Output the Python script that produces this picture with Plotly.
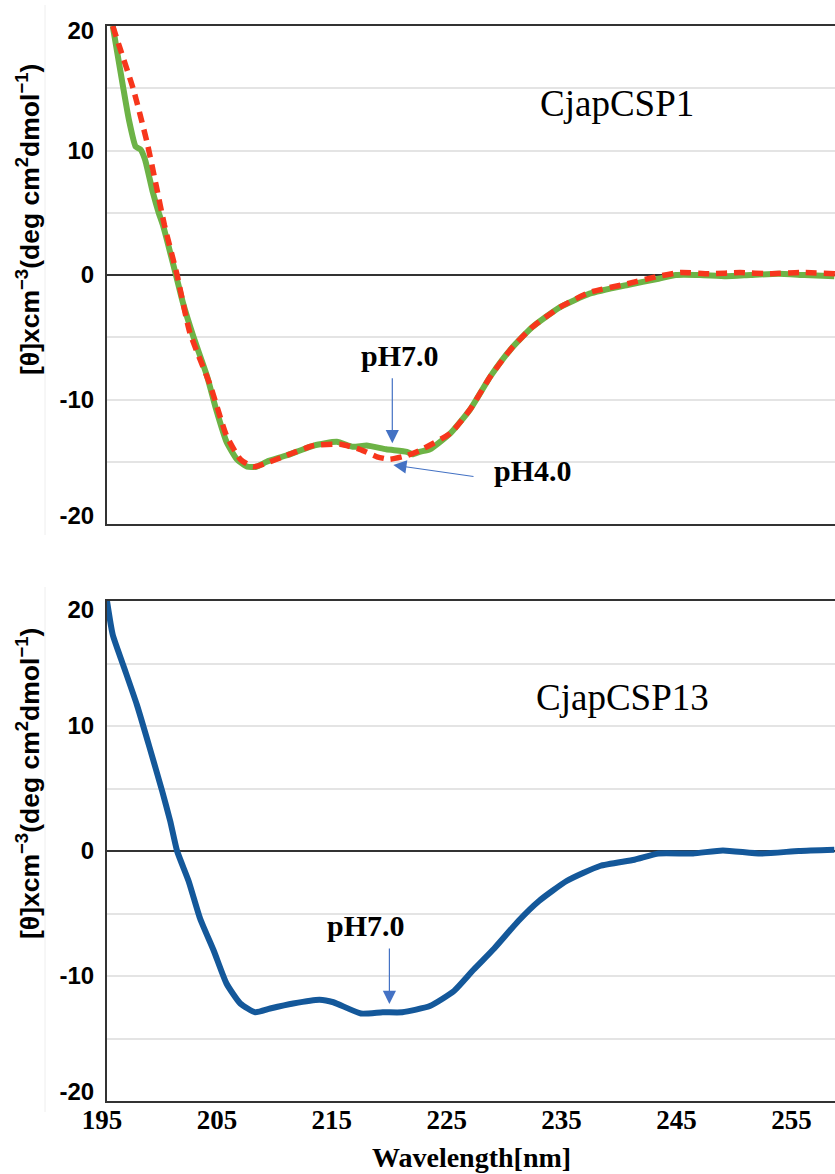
import plotly.graph_objects as go

# ---- data ----
wl_ph7_top = [195.5, 196.4, 196.9, 197.5, 197.9, 198.3, 199.0, 199.5, 199.9, 201.0, 201.6, 202.5,
              203.7, 204.5, 205.4, 206.3, 207.2, 208.0, 208.9, 210.6, 213.0, 215.0, 216.4, 217.6,
              219.3, 221.1, 221.6, 222.2, 223.1, 224.9, 226.6, 228.4, 230.2, 232.0, 234.4, 237.0,
              240.3, 243.0, 244.5, 246.6, 248.9, 251.0, 253.4, 255.7, 258.3]
cd_ph7_top = [20.0, 15.1, 12.5, 10.3, 10.1, 9.3, 6.6, 5.0, 3.9, 0.0, -2.2, -4.9,
              -8.1, -10.8, -13.4, -14.8, -15.4, -15.4, -15.0, -14.5, -13.7, -13.4, -13.8, -13.7,
              -14.0, -14.2, -14.4, -14.2, -14.0, -12.7, -10.8, -8.1, -5.9, -4.2, -2.6, -1.5,
              -0.8, -0.3, 0.0, 0.0, -0.1, 0.0, 0.1, 0.0, -0.1]

wl_ph4_top = [195.5, 196.1, 197.3, 198.5, 199.3, 200.0, 201.1, 202.2, 204.0, 205.4, 206.6, 207.7,
              208.9, 210.6, 213.0, 215.3, 217.0, 218.5, 219.6, 221.1, 222.2, 224.9, 226.6, 228.4,
              230.2, 232.0, 234.4, 237.0, 240.3, 243.0, 244.9, 247.5, 250.1, 252.7, 255.3, 258.4]
cd_ph4_top = [20.0, 18.3, 14.9, 10.6, 7.1, 4.0, 0.0, -4.6, -8.9, -12.9, -14.8, -15.4,
              -15.1, -14.5, -13.7, -13.6, -14.0, -14.6, -14.8, -14.5, -14.1, -12.7, -10.8, -8.1,
              -5.9, -4.2, -2.6, -1.4, -0.7, -0.1, 0.2, 0.1, 0.2, 0.1, 0.2, 0.1]

wl_ph7_bottom = [195.0, 195.5, 196.4, 197.6, 198.7, 199.8, 200.5, 201.1, 202.1, 203.1, 204.3, 205.4,
                 206.6, 207.9, 209.2, 211.2, 213.5, 214.7, 217.1, 219.0, 220.7, 223.1, 225.2, 226.9,
                 228.7, 230.8, 232.6, 235.0, 237.9, 240.9, 243.0, 246.0, 248.6, 251.9, 255.2, 258.3]
cd_ph7_bottom = [20.0, 17.3, 14.9, 11.7, 8.3, 4.8, 2.4, 0.0, -2.4, -5.4, -8.0, -10.6,
                 -12.2, -12.9, -12.6, -12.2, -11.9, -12.1, -13.0, -12.9, -12.9, -12.4, -11.2, -9.5,
                 -7.8, -5.6, -4.0, -2.4, -1.2, -0.7, -0.2, -0.2, 0.05, -0.2, 0.0, 0.1]

x_ticks = [195, 205, 215, 225, 235, 245, 255]
y_tick_text = ["-20", "-10", "0", "10", "20"]
# label positions as printed in the reference (outer labels sit slightly inside the frame)
y_tick_pos_top = [-19.3, -10, 0, 10, 19.65]
y_tick_pos_bottom = [-19.25, -10, 0, 10, 19.3]
y_title = "[θ]xcm<sup>−3</sup>(deg cm<sup>2</sup>dmol<sup>−1</sup>)"

W, H = 835, 1174
GREEN, RED, BLUE, ARROW = "#6db346", "#f7361c", "#14589a", "#4472c4"
AXIS = "#333333"
GRID = "#e4e4e4"

fig = go.Figure()
fig.add_trace(go.Scatter(x=wl_ph7_top, y=cd_ph7_top, mode="lines", name="pH7.0",
                         line=dict(color=GREEN, width=6, shape="spline", smoothing=0.5),
                         xaxis="x", yaxis="y"))
fig.add_trace(go.Scatter(x=wl_ph4_top, y=cd_ph4_top, mode="lines", name="pH4.0",
                         line=dict(color=RED, width=5.5, dash="11px,7px", shape="spline", smoothing=0.5),
                         xaxis="x", yaxis="y"))
fig.add_trace(go.Scatter(x=wl_ph7_bottom, y=cd_ph7_bottom, mode="lines", name="pH7.0",
                         line=dict(color=BLUE, width=6, shape="spline", smoothing=0.5),
                         xaxis="x2", yaxis="y2"))

xr = [195, 258.36]
xdom = [107 / W, 1.0]

def px(v):
    return v / W

def py(v):
    return 1 - v / H

xcommon = dict(range=xr, domain=xdom, showgrid=False, zeroline=False, showline=True,
               mirror=True, linecolor=AXIS, linewidth=2, ticks="", automargin=False)
ycommon = dict(range=[-20, 20], ticktext=y_tick_text, showgrid=False,
               minor=dict(dtick=5, tick0=0, showgrid=True, gridcolor=GRID, gridwidth=1.5),
               zeroline=True, zerolinecolor=AXIS, zerolinewidth=2, showline=True,
               linecolor=AXIS, linewidth=2, ticks="", ticklabelstandoff=6, automargin=False,
               tickfont=dict(family="Liberation Sans", size=24, color="black", weight="bold"))

fig.update_layout(
    width=W, height=H, margin=dict(l=0, r=0, t=0, b=0, pad=0), autosize=False,
    paper_bgcolor="white", plot_bgcolor="white", showlegend=False,
    xaxis=dict(xcommon, anchor="y", showticklabels=False),
    yaxis=dict(ycommon, anchor="x", domain=[py(524), py(26)], tickvals=y_tick_pos_top),
    xaxis2=dict(xcommon, anchor="y2", tickvals=x_ticks, showticklabels=True,
                ticklabelstandoff=-6, ticklabelshift=-5,
                tickfont=dict(family="Liberation Serif", size=27, color="black", weight="bold")),
    yaxis2=dict(ycommon, anchor="x2", domain=[py(1101), py(601)], tickvals=y_tick_pos_bottom),
)

ann = []
# y-axis titles
for yc in (220, 784):
    ann.append(dict(text=y_title, xref="paper", yref="paper", x=px(28), y=py(yc),
                    textangle=-90, showarrow=False, xanchor="center", yanchor="middle",
                    font=dict(family="Liberation Sans", size=26.5, color="black", weight="bold")))
# x-axis title
ann.append(dict(text="Wavelength[nm]", xref="paper", yref="paper", x=px(471), y=py(1157),
                showarrow=False, xanchor="center", yanchor="middle",
                font=dict(family="Liberation Serif", size=28, color="black", weight="bold")))
# panel labels
ann.append(dict(text="CjapCSP1", xref="paper", yref="paper", x=px(617), y=py(104),
                showarrow=False, xanchor="center", yanchor="middle",
                font=dict(family="Liberation Serif", size=37, color="black")))
ann.append(dict(text="CjapCSP13", xref="paper", yref="paper", x=px(622), y=py(697),
                showarrow=False, xanchor="center", yanchor="middle",
                font=dict(family="Liberation Serif", size=37, color="black")))
# pH labels
phfont = dict(family="Liberation Serif", size=30, color="black", weight="bold")
for t, cx, cy in (("pH7.0", 400, 355), ("pH4.0", 533, 471), ("pH7.0", 366, 925)):
    ann.append(dict(text=t, xref="paper", yref="paper", x=px(cx), y=py(cy), showarrow=False,
                    xanchor="center", yanchor="middle", font=phfont))
# arrows (tip, tail in pixels)
for (tx, ty), (sx, sy) in (((392.3, 443.3), (392.3, 376.7)),
                           ((393.3, 465.0), (475.0, 476.7)),
                           ((389.4, 1004.0), (389.4, 947.0))):
    ann.append(dict(text="", xref="paper", yref="paper", x=px(tx), y=py(ty),
                    ax=sx - tx, ay=sy - ty, showarrow=True, arrowhead=2, arrowsize=2.2,
                    arrowwidth=1.2, arrowcolor=ARROW, standoff=0, startstandoff=0))
fig.update_layout(annotations=ann)

# faint vertical edge lines from the source image
for y0, y1 in ((5, 535), (587, 1112)):
    fig.add_shape(type="line", xref="paper", yref="paper", x0=px(45), x1=px(45),
                  y0=py(y1), y1=py(y0), line=dict(color="#eeeeee", width=1))

fig.write_html("out.html")
